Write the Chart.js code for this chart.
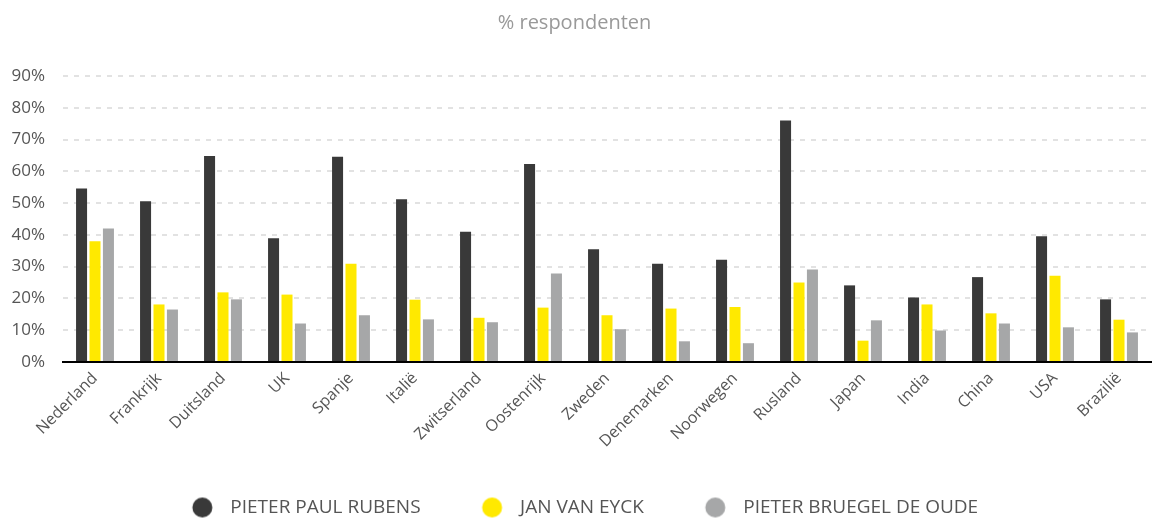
<!DOCTYPE html>
<html>
<head>
<meta charset="utf-8">
<script src="https://cdn.jsdelivr.net/npm/chart.js@4/dist/chart.umd.min.js"></script>
<style>
  html, body { margin: 0; padding: 0; background: #fff; }
  #wrap { width: 1153px; height: 519px; }
</style>
</head>
<body>
<div id="wrap"><canvas id="myChart" width="1153" height="519"></canvas></div>
<script>
const countries = ['Nederland', 'Frankrijk', 'Duitsland', 'UK', 'Spanje', 'Italië', 'Zwitserland',
  'Oostenrijk', 'Zweden', 'Denemarken', 'Noorwegen', 'Rusland', 'Japan', 'India', 'China', 'USA', 'Brazilië'];
const rubens = [54.6, 50.6, 64.8, 38.9, 64.6, 51.2, 41.0, 62.3, 35.5, 30.9, 32.2, 76.0, 24.1, 20.3, 26.7, 39.6, 19.7];
const vanEyck = [38.0, 18.1, 21.9, 21.2, 30.9, 19.6, 13.9, 17.1, 14.7, 16.8, 17.3, 25.0, 6.7, 18.1, 15.3, 27.1, 13.3];
const bruegel = [42.0, 16.5, 19.7, 12.1, 14.7, 13.4, 12.5, 27.8, 10.3, 6.5, 5.9, 29.1, 13.1, 9.9, 12.1, 10.9, 9.3];
const seriesNames = ['PIETER PAUL RUBENS', 'JAN VAN EYCK', 'PIETER BRUEGEL DE OUDE'];
const seriesColors = ['#393939', '#ffe900', '#a6a7a8'];

const fontFamily = '"Open Sans", "Noto Sans", sans-serif';
const textColor = '#555555';

// legend: wide box so the gap between items is bigger than the vertical padding,
// the dot sits in the right part of that box
const legendBox = 50;
const legendPad = 40;
function makeDot(color) {
  const c = document.createElement('canvas');
  c.width = legendBox;
  c.height = 22;
  const g = c.getContext('2d');
  g.fillStyle = color;
  g.beginPath();
  g.arc(legendBox - 18.5, 11, 10, 0, Math.PI * 2);
  g.fill();
  return c;
}
const dots = seriesColors.map(makeDot);

const ctx = document.getElementById('myChart').getContext('2d');
const barChart = new Chart(ctx, {
  type: 'bar',
  data: {
    labels: countries,
    datasets: [
      { label: seriesNames[0], data: rubens, backgroundColor: seriesColors[0] },
      { label: seriesNames[1], data: vanEyck, backgroundColor: seriesColors[1] },
      { label: seriesNames[2], data: bruegel, backgroundColor: seriesColors[2] },
    ],
  },
  options: {
    animation: false,
    responsive: false,
    layout: { padding: { top: 0, right: 2, bottom: -8, left: -2 } },
    datasets: {
      bar: { categoryPercentage: 0.63, barPercentage: 0.82 },
    },
    plugins: {
      title: {
        display: true,
        text: '% respondenten',
        color: '#999999',
        font: { family: fontFamily, size: 20, weight: 'normal' },
        padding: { top: 11, bottom: 41 },
      },
      legend: {
        position: 'bottom',
        labels: {
          usePointStyle: true,
          pointStyleWidth: legendBox,
          boxWidth: legendBox,
          boxHeight: 19,
          padding: legendPad,
          color: textColor,
          font: { family: fontFamily, size: 19 },
          generateLabels: (chart) => Chart.defaults.plugins.legend.labels.generateLabels(chart)
            .map((item, i) => ({ ...item, pointStyle: dots[i] })),
        },
      },
      tooltip: { enabled: false },
    },
    scales: {
      x: {
        grid: { display: false, drawTicks: false },
        border: { display: true, color: '#000000', width: 2 },
        ticks: {
          color: textColor,
          font: { family: fontFamily, size: 16 },
          maxRotation: 45,
          minRotation: 45,
          padding: 7,
        },
      },
      y: {
        min: 0,
        max: 90,
        afterFit: (scale) => { scale.width = 65; },
        grid: { color: '#e2e2e2', lineWidth: 2, drawTicks: false },
        border: { display: false, dash: [5, 6] },
        ticks: {
          stepSize: 10,
          color: textColor,
          font: { family: fontFamily, size: 17 },
          padding: 18,
          callback: (v) => v + '%',
        },
      },
    },
  },
});
</script>
</body>
</html>
